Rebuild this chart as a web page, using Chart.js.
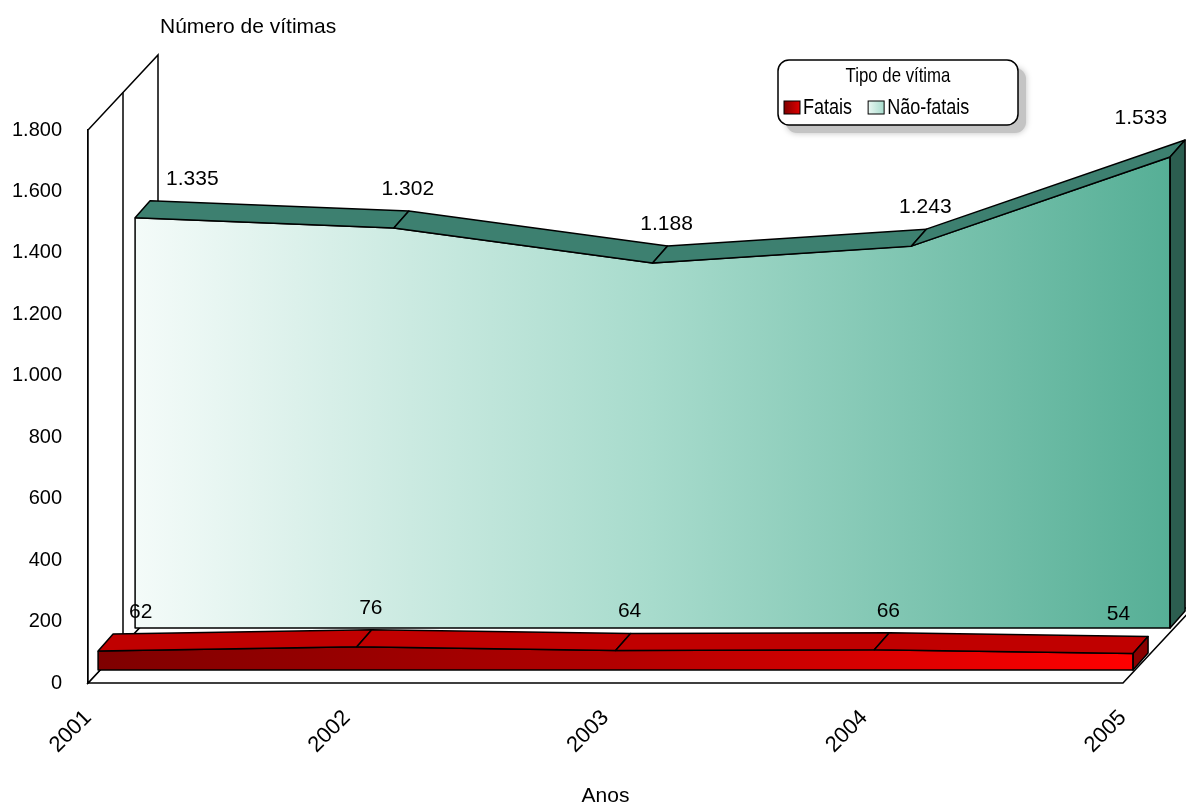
<!DOCTYPE html>
<html>
<head>
<meta charset="utf-8">
<script src="https://cdn.jsdelivr.net/npm/chart.js@4.4.1/dist/chart.umd.min.js"></script>
<style>
  html, body { margin: 0; padding: 0; background: #fff; }
</style>
</head>
<body>
<canvas id="chart" width="1186" height="807"></canvas>
<script>
// data
const years = ['2001', '2002', '2003', '2004', '2005'];
const fatais = [62, 76, 64, 66, 54];
const naoFatais = [1335, 1302, 1188, 1243, 1533];
const yMin = 0, yMax = 1800, yStep = 200;

const FONT = "'Liberation Sans', Arial, sans-serif";

// 3D look: thickness of each ribbon and depth of the walls (pixels)
const RIB = { dx: 15, dy: -17 };
const WALL = { dx: 70, dy: -75 };

const fmt = v => String(v).replace(/\B(?=(\d{3})+(?!\d))/g, '.');
const toPts = arr => arr.map((v, i) => ({ x: i, y: v }));

function hGrad(chart, scaleId, stops) {
  const s = chart.scales[scaleId];
  if (!s || !chart.chartArea) return stops[0][1];
  const g = chart.ctx.createLinearGradient(s.getPixelForValue(0), 0, s.getPixelForValue(years.length - 1), 0);
  stops.forEach(([o, c]) => g.addColorStop(o, c));
  return g;
}

function poly(ctx, pts, fill) {
  ctx.beginPath();
  ctx.moveTo(pts[0][0], pts[0][1]);
  for (let i = 1; i < pts.length; i++) ctx.lineTo(pts[i][0], pts[i][1]);
  ctx.closePath();
  if (fill) { ctx.fillStyle = fill; ctx.fill(); }
  ctx.stroke();
}

// condensed text (the original uses a narrow face)
function narrowText(ctx, txt, x, y, align, sx) {
  const w = ctx.measureText(txt).width * sx;
  let left = x;
  if (align === 'center') left = x - w / 2;
  if (align === 'right') left = x - w;
  ctx.save();
  ctx.textAlign = 'left';
  ctx.translate(left, y);
  ctx.scale(sx, 1);
  ctx.fillText(txt, 0, 0);
  ctx.restore();
  return w;
}

function drawRibbon(chart, idx, topColor, sideColor) {
  const ctx = chart.ctx;
  const meta = chart.getDatasetMeta(idx);
  const base = meta.yScale.getPixelForValue(0);
  const p = meta.data.map(el => ({ x: el.x, y: el.y }));
  const n = p.length;
  ctx.save();
  ctx.strokeStyle = '#000';
  ctx.lineWidth = 1.5;
  ctx.lineJoin = 'round';
  for (let i = 0; i < n - 1; i++) {
    poly(ctx, [[p[i].x, p[i].y], [p[i + 1].x, p[i + 1].y],
      [p[i + 1].x + RIB.dx, p[i + 1].y + RIB.dy], [p[i].x + RIB.dx, p[i].y + RIB.dy]], topColor);
  }
  const l = p[n - 1];
  poly(ctx, [[l.x, l.y], [l.x + RIB.dx, l.y + RIB.dy], [l.x + RIB.dx, base + RIB.dy], [l.x, base]], sideColor);
  // front face outline
  ctx.beginPath();
  ctx.moveTo(p[0].x, p[0].y);
  ctx.lineTo(p[0].x, base);
  ctx.lineTo(l.x, base);
  ctx.lineTo(l.x, l.y);
  ctx.stroke();
  ctx.restore();
}

function drawLabels(chart, idx, values) {
  const ctx = chart.ctx;
  const meta = chart.getDatasetMeta(idx);
  ctx.save();
  ctx.font = '21px ' + FONT;
  ctx.fillStyle = '#000';
  ctx.textBaseline = 'middle';
  meta.data.forEach((el, i) => {
    let x = el.x + 14, align = 'center';
    if (i === 0) { x = el.x + 31; align = 'left'; }
    if (i === values.length - 1) { x = el.x - 3; align = 'right'; }
    ctx.textAlign = align;
    ctx.fillText(fmt(values[i]), x, el.y - 39);
  });
  ctx.restore();
}

const depth3d = {
  id: 'depth3d',
  beforeDatasetsDraw(chart) {
    const ctx = chart.ctx;
    const xs = chart.scales.x, ys = chart.scales.y;
    const x0 = xs.getPixelForValue(0), x1 = xs.getPixelForValue(years.length - 1);
    const yb = ys.getPixelForValue(yMin), yt = ys.getPixelForValue(yMax);
    ctx.save();
    ctx.strokeStyle = '#000';
    ctx.lineWidth = 1.5;
    // floor
    poly(ctx, [[x0, yb], [x1, yb], [x1 + WALL.dx, yb + WALL.dy], [x0 + WALL.dx, yb + WALL.dy]], '#fff');
    // left wall
    poly(ctx, [[x0, yb], [x0, yt], [x0 + WALL.dx, yt + WALL.dy], [x0 + WALL.dx, yb + WALL.dy]], '#fff');
    ctx.beginPath();
    ctx.moveTo(x0 + WALL.dx / 2, yt + WALL.dy / 2);
    ctx.lineTo(x0 + WALL.dx / 2, yb + WALL.dy / 2);
    ctx.stroke();
    ctx.restore();
  },
  afterDatasetsDraw(chart) {
    drawRibbon(chart, 1, '#3d8070', '#2c5e50');
    drawRibbon(chart, 0, '#c00000', '#8a0000');
    drawLabels(chart, 1, naoFatais);
    drawLabels(chart, 0, fatais);
  },
  afterDraw(chart) {
    const ctx = chart.ctx;
    const xs = chart.scales.x;
    ctx.save();
    ctx.fillStyle = '#000';
    ctx.font = '21px ' + FONT;
    ctx.textBaseline = 'middle';
    ctx.textAlign = 'left';
    ctx.fillText('Número de vítimas', xs.getPixelForValue(0) + 72, 27);
    ctx.textAlign = 'center';
    ctx.fillText('Anos', (xs.getPixelForValue(0) + xs.getPixelForValue(years.length - 1)) / 2, 796);

    // legend
    const L = { x: 778, y: 60, w: 240, h: 65, r: 11 };
    ctx.save();
    ctx.fillStyle = '#c4c4c4';
    ctx.shadowColor = 'rgba(0,0,0,0.25)';
    ctx.shadowBlur = 6;
    ctx.beginPath();
    ctx.roundRect(L.x + 8, L.y + 8, L.w, L.h, L.r);
    ctx.fill();
    ctx.restore();
    ctx.beginPath();
    ctx.roundRect(L.x, L.y, L.w, L.h, L.r);
    ctx.fillStyle = '#fff';
    ctx.fill();
    ctx.lineWidth = 1.5;
    ctx.strokeStyle = '#000';
    ctx.stroke();
    ctx.fillStyle = '#000';
    ctx.font = '21px ' + FONT;
    narrowText(ctx, 'Tipo de vítima', L.x + L.w / 2, L.y + 16, 'center', 0.8);
    ctx.font = '22px ' + FONT;
    const items = [
      { label: chart.data.datasets[0].label, c0: '#7f0000', c1: '#e00000' },
      { label: chart.data.datasets[1].label, c0: '#eaf7f2', c1: '#a6dbcc' }
    ];
    let ix = L.x + 6;
    items.forEach(it => {
      const g = ctx.createLinearGradient(ix, 0, ix + 16, 0);
      g.addColorStop(0, it.c0);
      g.addColorStop(1, it.c1);
      ctx.fillStyle = g;
      ctx.fillRect(ix, L.y + 41, 16, 13);
      ctx.lineWidth = 1;
      ctx.strokeRect(ix, L.y + 41, 16, 13);
      ctx.fillStyle = '#000';
      const w = narrowText(ctx, it.label, ix + 19, L.y + 48, 'left', 0.82);
      ix += 19 + w + 16;
    });
    ctx.restore();
  }
};

new Chart(document.getElementById('chart'), {
  type: 'line',
  data: {
    datasets: [
      {
        label: 'Fatais',
        data: toPts(fatais),
        xAxisID: 'xF',
        yAxisID: 'yF',
        borderColor: '#000',
        borderWidth: 1.5,
        pointRadius: 0,
        tension: 0,
        clip: false,
        fill: 'origin',
        backgroundColor: c => hGrad(c.chart, 'xF', [[0, '#7f0000'], [0.5, '#b20000'], [1, '#ff0000']])
      },
      {
        label: 'Não-fatais',
        data: toPts(naoFatais),
        xAxisID: 'xN',
        yAxisID: 'yN',
        borderColor: '#000',
        borderWidth: 1.5,
        pointRadius: 0,
        tension: 0,
        clip: false,
        fill: 'origin',
        backgroundColor: c => hGrad(c.chart, 'xN', [[0, '#f4fbf9'], [0.5, '#a7dbcc'], [1, '#56af96']])
      }
    ]
  },
  options: {
    responsive: false,
    animation: false,
    layout: { padding: { top: 130, right: 3, left: 0, bottom: 0 } },
    plugins: {
      legend: { display: false },
      tooltip: { enabled: false }
    },
    scales: {
      x: {
        type: 'linear',
        bounds: 'data',
        min: 0,
        max: 4.232,
        border: { display: false },
        grid: { display: false, drawTicks: false },
        ticks: {
          stepSize: 1,
          includeBounds: false,
          autoSkip: false,
          minRotation: 45,
          maxRotation: 45,
          padding: 22,
          color: '#000',
          font: { family: FONT, size: 22 },
          callback: v => (Number.isInteger(v) && years[v]) ? years[v] : ''
        },
        afterFit: s => { s.height = 124; }
      },
      y: {
        min: yMin,
        max: yMax,
        border: { display: true, color: '#000', width: 1.5 },
        grid: { display: false, drawTicks: false },
        ticks: {
          stepSize: yStep,
          padding: 26,
          color: '#000',
          font: { family: FONT, size: 20 },
          callback: v => fmt(v)
        },
        afterFit: s => { s.width = 88; }
      },
      // depth planes for each series (front row: Fatais, back row: Não-fatais)
      xF: { type: 'linear', display: false, bounds: 'data', min: -0.039, max: 4.193 },
      yF: { type: 'linear', display: false, bounds: 'data', min: -42, max: 1758 },
      xN: { type: 'linear', display: false, bounds: 'data', min: -0.182, max: 4.05 },
      yN: { type: 'linear', display: false, bounds: 'data', min: -179, max: 1621 }
    }
  },
  plugins: [depth3d]
});
</script>
</body>
</html>
